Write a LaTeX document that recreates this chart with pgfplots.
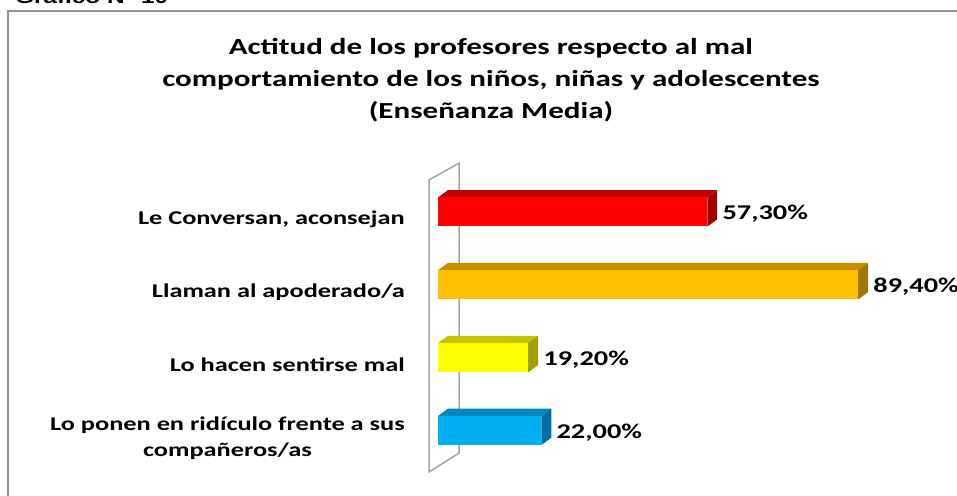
\documentclass[border=0pt]{standalone}
\usepackage{fontspec}
\setmainfont{Carlito}[FakeStretch=1.35]
\newfontfamily\arialfont{Liberation Sans}[FakeStretch=1.35]
\usepackage{pgfplots}
\pgfplotsset{compat=1.18}

\definecolor{redfront}{HTML}{FF0000}
\definecolor{redtop}{HTML}{C00000}
\definecolor{redside}{HTML}{A00000}
\definecolor{orafront}{HTML}{FFC000}
\definecolor{oratop}{HTML}{C49000}
\definecolor{oraside}{HTML}{A07800}
\definecolor{yelfront}{HTML}{FFFF00}
\definecolor{yeltop}{HTML}{C4C400}
\definecolor{yelside}{HTML}{A0A000}
\definecolor{blufront}{HTML}{00B0F0}
\definecolor{blutop}{HTML}{0088C0}
\definecolor{bluside}{HTML}{0070A0}
\definecolor{wallgray}{HTML}{A6A6A6}

\pgfplotsset{
  bar3d/.style={xbar, bar width=29pt, bar shift=0pt, draw=none, fill=#1,
    point meta=x,
    nodes near coords={\pgfmathprintnumber[fixed, fixed zerofill, precision=2, use comma]{\pgfplotspointmeta}\%},
    every node near coord/.append style={anchor=west, inner sep=0pt, xshift=15pt, yshift=-2pt,
      text=black, font=\bfseries\fontsize{21}{24}\selectfont}},
  face/.style={fill=#1, draw=none},
}

\begin{document}
\begin{tikzpicture}
\clip (0,0) rectangle (957pt,-495pt);
\useasboundingbox (0,0) rectangle (957pt,-495pt);
\draw[gray!85, line width=2pt] (8pt,-11pt) rectangle (975pt,-515pt);
\node[anchor=base west, inner sep=0pt, font=\arialfont\bfseries\fontsize{18}{20}\selectfont] at (15pt,-4pt) {Gráfico N° 10};

% title
\begin{scope}[every node/.style={anchor=base, inner sep=0pt, font=\bfseries\fontsize{23}{28}\selectfont}]
\node at (491pt,-54pt) {Actitud de los profesores respecto al mal};
\node at (491pt,-86pt) {comportamiento de los niños, niñas y adolescentes};
\node at (491pt,-118pt) {(Enseñanza Media)};
\end{scope}

\begin{axis}[
    at={(438pt,-466.9pt)}, anchor=south west,
    x=4.70pt, y=72.83pt,
    xmin=0, xmax=100, ymin=0.5, ymax=4.5,
    clip=false,
    axis line style={draw=none},
    major tick length=0pt,
    xtick=\empty,
    ytick={1,2,3,4},
    yticklabels={{Lo ponen en ridículo frente a sus\\compañeros/as}, Lo hacen sentirse mal, Llaman al apoderado/a, {Le Conversan, aconsejan}},
    yticklabel style={align=center, inner sep=0pt, xshift=-33pt, yshift=-7.5pt,
      font=\bfseries\fontsize{19.5}{26}\selectfont},
    /pgf/number format/assume math mode=true,
  ]
  % back wall
  \addplot[draw=wallgray, line width=1.5pt, fill=white]
    coordinates {(-1.91,4.44) (4.47,4.67) (4.47,0.69) (-1.91,0.43)} --cycle;

  % Le Conversan, aconsejan
  \addplot[face=redtop] coordinates {(0,4.2) (57.3,4.2) (59.4,4.3) (2.1,4.3)} --cycle;
  \addplot[face=redside] coordinates {(57.3,4.2) (59.4,4.3) (59.4,3.9) (57.3,3.8)} --cycle;
  \addplot[bar3d=redfront] coordinates {(57.3,4)};

  % Llaman al apoderado/a
  \addplot[face=oratop] coordinates {(0,3.2) (89.4,3.2) (91.5,3.3) (2.1,3.3)} --cycle;
  \addplot[face=oraside] coordinates {(89.4,3.2) (91.5,3.3) (91.5,2.9) (89.4,2.8)} --cycle;
  \addplot[bar3d=orafront] coordinates {(89.4,3)};

  % Lo hacen sentirse mal
  \addplot[face=yeltop] coordinates {(0,2.2) (19.2,2.2) (21.3,2.3) (2.1,2.3)} --cycle;
  \addplot[face=yelside] coordinates {(19.2,2.2) (21.3,2.3) (21.3,1.9) (19.2,1.8)} --cycle;
  \addplot[bar3d=yelfront] coordinates {(19.2,2)};

  % Lo ponen en ridiculo frente a sus companeros/as
  \addplot[face=blutop] coordinates {(0,1.2) (22,1.2) (24.1,1.3) (2.1,1.3)} --cycle;
  \addplot[face=bluside] coordinates {(22,1.2) (24.1,1.3) (24.1,0.9) (22,0.8)} --cycle;
  \addplot[bar3d=blufront] coordinates {(22,1)};
\end{axis}
\end{tikzpicture}
\end{document}
